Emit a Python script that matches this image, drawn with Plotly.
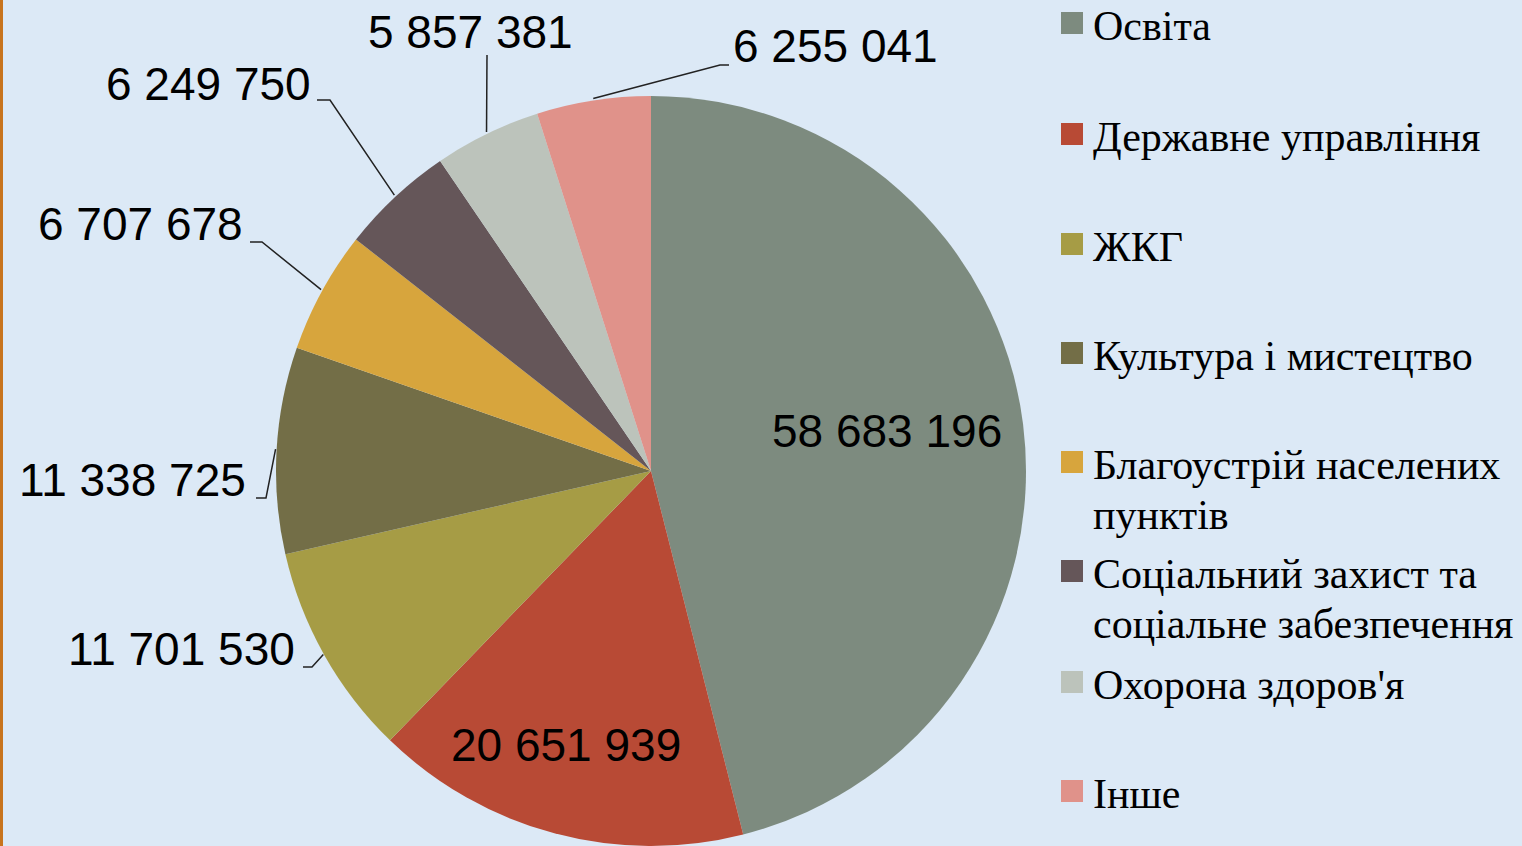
import math
import plotly.graph_objects as go

# ---------------- data ----------------
categories = ["Освіта", "Державне управління", "ЖКГ", "Культура і мистецтво",
              "Благоустрій населених пунктів",
              "Соціальний захист та соціальне забезпечення",
              "Охорона здоров'я", "Інше"]
legend_lines = [["Освіта"], ["Державне управління"], ["ЖКГ"], ["Культура і мистецтво"],
                ["Благоустрій населених", "пунктів"],
                ["Соціальний захист та", "соціальне забезпечення"],
                ["Охорона здоров'я"], ["Інше"]]
values = [58683196, 20651939, 11701530, 11338725, 6707678, 6249750, 5857381, 6255041]
colors = ["#7d8b7f", "#b84a35", "#a69c45", "#736e47",
          "#d7a53d", "#655659", "#bcc3bb", "#e0928a"]

# ---------------- layout constants (pixels) ----------------
W, H = 1522, 846
PIE_LEFT, PIE_RIGHT, PIE_TOP = 275, 1027, 96
R = (PIE_RIGHT - PIE_LEFT) / 2
CX = (PIE_LEFT + PIE_RIGHT) / 2
CY = H - R

# label placement: inside labels -> text centre; outside labels -> text + leader elbow
label_layout = [
    dict(kind="in", x=887, y=431),
    dict(kind="in", x=566, y=745),
    dict(kind="out", x=297, y=649, xanchor="right", elbow=(312, 667), end=(303, 667)),
    dict(kind="out", x=248, y=480, xanchor="right", elbow=(266, 498), end=(256, 498)),
    dict(kind="out", x=245, y=224, xanchor="right", elbow=(262, 242), end=(250, 242)),
    dict(kind="out", x=313, y=84, xanchor="right", elbow=(330, 100), end=(317, 100)),
    dict(kind="out", x=470, y=32, xanchor="center", elbow=(487, 55), end=(487, 55)),
    dict(kind="out", x=731, y=46, xanchor="left", elbow=(720, 65), end=(729, 65)),
]
legend_square_y = [23, 134, 244, 353, 462, 571, 682, 791]
LEG_SQ_X0, LEG_SQ = 1061, 22
LEG_TEXT_X = 1091
LEG_LINE_GAP = 50


def px(x):
    return x / W


def py(y):
    return 1 - y / H


def fmt(v):
    return f"{v:,}".replace(",", " ")


fig = go.Figure(go.Pie(
    labels=categories,
    values=values,
    sort=False,
    direction="clockwise",
    rotation=0,
    marker=dict(colors=colors, line=dict(width=0)),
    textinfo="none",
    hoverinfo="label+value+percent",
    showlegend=False,
    domain=dict(x=[px(PIE_LEFT), px(PIE_RIGHT)], y=[0, py(PIE_TOP)]),
))

total = sum(values)
annotations = []
shapes = []
cum = 0.0
for i, v in enumerate(values):
    mid = (cum + v / 2) / total * 2 * math.pi
    cum += v
    ax = CX + R * math.sin(mid)
    ay = CY - R * math.cos(mid)
    lay = label_layout[i]
    xanchor = "center" if lay["kind"] == "in" else lay["xanchor"]
    annotations.append(dict(x=px(lay["x"]), y=py(lay["y"]), xref="paper", yref="paper",
                            text=fmt(v), showarrow=False, xanchor=xanchor, yanchor="middle",
                            font=dict(family="Liberation Sans, Arial", size=46, color="#000000")))
    if lay["kind"] == "out":
        ex, ey = lay["elbow"]
        tx, ty = lay["end"]
        path = f"M {px(ax)},{py(ay)} L {px(ex)},{py(ey)} L {px(tx)},{py(ty)}"
        shapes.append(dict(type="path", xref="paper", yref="paper", path=path,
                           line=dict(color="#222222", width=1.5)))

# manual legend
for i, lines in enumerate(legend_lines):
    yc = legend_square_y[i]
    shapes.append(dict(type="rect", xref="paper", yref="paper",
                       x0=px(LEG_SQ_X0), x1=px(LEG_SQ_X0 + LEG_SQ),
                       y0=py(yc - LEG_SQ / 2), y1=py(yc + LEG_SQ / 2),
                       fillcolor=colors[i], line=dict(width=0)))
    for k, line in enumerate(lines):
        annotations.append(dict(x=px(LEG_TEXT_X), y=py(yc + 3 + k * LEG_LINE_GAP),
                                xref="paper", yref="paper",
                                text=line, showarrow=False, xanchor="left", yanchor="middle",
                                font=dict(family="Liberation Serif, Times New Roman", size=42,
                                          color="#000000")))

# left orange border
shapes.append(dict(type="rect", xref="paper", yref="paper", x0=0, x1=px(3), y0=0, y1=1,
                   fillcolor="#c8741e", line=dict(width=0), layer="above"))

fig.update_layout(
    width=W, height=H,
    margin=dict(l=0, r=0, t=0, b=0),
    paper_bgcolor="#dce9f6",
    plot_bgcolor="#dce9f6",
    annotations=annotations,
    shapes=shapes,
)

fig.write_html("out.html",
               config={"displayModeBar": False},
               post_script="document.body.style.margin='0';document.body.style.background='#dce9f6';")
